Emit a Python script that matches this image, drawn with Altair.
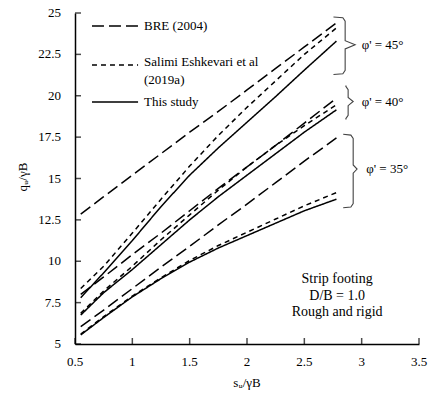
import altair as alt
import pandas as pd

# ---- data ----
X = [0.55, 0.75, 1.0, 1.25, 1.5, 1.75, 2.0, 2.25, 2.5, 2.78]

bre_45 = [12.85, 13.9, 15.2, 16.5, 17.8, 19.05, 20.35, 21.65, 22.95, 24.4]
bre_40 = [8.0, 9.05, 10.4, 11.7, 13.05, 14.4, 15.7, 17.0, 18.35, 19.85]
bre_35 = [6.05, 7.05, 8.35, 9.65, 10.9, 12.2, 13.45, 14.75, 16.05, 17.45]

sal_45 = [8.35, 9.7, 11.7, 13.75, 15.75, 17.6, 19.3, 20.9, 22.5, 24.1]
sal_40 = [6.85, 8.2, 9.7, 11.3, 12.8, 14.3, 15.7, 17.0, 18.2, 19.45]
sal_35 = [5.6, 6.65, 7.9, 9.0, 10.05, 10.95, 11.75, 12.55, 13.35, 14.15]

this_45 = [7.8, 9.3, 11.25, 13.3, 15.2, 16.85, 18.4, 19.95, 21.55, 23.3]
this_40 = [6.75, 8.1, 9.5, 11.0, 12.5, 13.9, 15.2, 16.5, 17.8, 19.15]
this_35 = [5.55, 6.6, 7.85, 8.95, 9.95, 10.8, 11.55, 12.3, 13.05, 13.75]

sources = ["BRE (2004)", "Salimi Eshkevari et al (2019a)", "This study"]
series = {
    ("BRE (2004)", "45"): bre_45, ("BRE (2004)", "40"): bre_40, ("BRE (2004)", "35"): bre_35,
    ("Salimi Eshkevari et al (2019a)", "45"): sal_45,
    ("Salimi Eshkevari et al (2019a)", "40"): sal_40,
    ("Salimi Eshkevari et al (2019a)", "35"): sal_35,
    ("This study", "45"): this_45, ("This study", "40"): this_40, ("This study", "35"): this_35,
}

x_ticks = [0.5, 1.0, 1.5, 2.0, 2.5, 3.0, 3.5]
x_tick_labels = ["0.5", "1", "1.5", "2", "2.5", "3", "3.5"]
y_ticks = [5, 7.5, 10, 12.5, 15, 17.5, 20, 22.5, 25]
y_tick_labels = ["5", "7.5", "10", "12.5", "15", "17.5", "20", "22.5", "25"]

x_title = "sᵤ/γB"
y_title = "qᵤ/γB"

legend_lines = [["BRE (2004)"], ["Salimi Eshkevari et al", "(2019a)"], ["This study"]]

brace_labels = ["φ' = 45°", "φ' = 40°", "φ' = 35°"]
brace_top = [24.76, 20.62, 17.67]
brace_bottom = [21.28, 18.57, 13.23]
brace_mid = [23.08, 19.65, 15.57]
brace_hook_x = [2.754, 2.865, 2.839]
brace_line_x = [2.856, 2.882, 2.926]
brace_tip_x = [2.943, 2.926, 2.96]
brace_label_x = [3.0, 3.0, 3.04]

note_lines = ["Strip footing", "D/B = 1.0", "Rough and rigid"]
note_x = [2.786, 2.786, 2.786]
note_y = [8.9, 7.88, 6.92]

# ---- layout (legend placement, in data units) ----
LEG_X0, LEG_X1, LEG_TX = 0.648, 1.05, 1.102
LEG_ROW_Y = [24.21, 21.86, 19.62]
LEG_TEXT_Y = [[24.21], [22.04, 20.95], [19.62]]

FONT = "Liberation Serif"

# ---- tables ----
rows = []
for (src, phi), vals in series.items():
    for xv, yv in zip(X, vals):
        rows.append({"x": xv, "y": yv, "source": src, "phi": phi})
df = pd.DataFrame(rows)

brows = []
for i, lab in enumerate(brace_labels):
    h, v, t = brace_hook_x[i], brace_line_x[i], brace_tip_x[i]
    top, bot, mid = brace_top[i], brace_bottom[i], brace_mid[i]
    pts = [(h, top), (v - 0.02, top - 0.05), (v, top - 0.25), (v, mid + 0.25),
           (t, mid), (v, mid - 0.25), (v, bot + 0.25), (v - 0.02, bot + 0.05), (h, bot)]
    for k, (px, py) in enumerate(pts):
        brows.append({"x": px, "y": py, "brace": lab, "k": k})
bdf = pd.DataFrame(brows)
blab = pd.DataFrame({"x": brace_label_x, "y": brace_mid, "t": brace_labels})
notes = pd.DataFrame({"x": note_x, "y": note_y, "t": note_lines})
xt = pd.DataFrame({"x": x_ticks, "y": [5] * len(x_ticks), "t": x_tick_labels})
yt = pd.DataFrame({"x": [0.5] * len(y_ticks), "y": y_ticks, "t": y_tick_labels})

leg_sym = pd.DataFrame({"x": [LEG_X0] * 3, "x2": [LEG_X1] * 3, "y": LEG_ROW_Y,
                        "source": sources})
leg_txt = pd.DataFrame([{"x": LEG_TX, "y": yy, "t": tt}
                        for lines_, ys in zip(legend_lines, LEG_TEXT_Y)
                        for tt, yy in zip(lines_, ys)])

xscale = alt.Scale(domain=[0.5, 3.5], nice=False, zero=False)
yscale = alt.Scale(domain=[5, 25], nice=False, zero=False)

xaxis = alt.Axis(values=x_ticks, labels=False, ticks=False, grid=False, title=None,
                 domainColor="black", domainWidth=1.5)
yaxis = alt.Axis(values=y_ticks, labels=False, ticks=False, grid=False, title=None,
                 domainColor="black", domainWidth=1.5)

XP = alt.X("x:Q", scale=xscale, axis=xaxis)
YP = alt.Y("y:Q", scale=yscale, axis=yaxis)
dash_scale = alt.Scale(domain=sources, range=[[12, 5], [5, 4], [1, 0]])

lines = alt.Chart(df).mark_line(color="black", strokeWidth=1.5).encode(
    x=XP, y=YP,
    strokeDash=alt.StrokeDash("source:N", scale=dash_scale, legend=None),
    detail="phi:N",
)

legend_sym = alt.Chart(leg_sym).mark_rule(color="black", strokeWidth=1.5).encode(
    x=XP, x2="x2:Q", y=YP,
    strokeDash=alt.StrokeDash("source:N", scale=dash_scale, legend=None))

legend_text = alt.Chart(leg_txt).mark_text(align="left", baseline="middle", font=FONT,
                                          fontSize=13, color="black").encode(
    x=XP, y=YP, text="t:N")

braces = alt.Chart(bdf).mark_line(color="#444444", strokeWidth=1.1).encode(
    x=XP, y=YP, detail="brace:N", order="k:Q")

brace_text = alt.Chart(blab).mark_text(align="left", baseline="middle", font=FONT,
                                       fontSize=13, color="black").encode(
    x=XP, y=YP, text="t:N")

note_text = alt.Chart(notes).mark_text(align="center", baseline="middle", font=FONT,
                                       fontSize=14, color="black").encode(
    x=XP, y=YP, text="t:N")

xtick = alt.Chart(xt).mark_tick(orient="vertical", size=6, thickness=1.5, yOffset=-3,
                                color="black").encode(x=XP, y=YP)
ytick = alt.Chart(yt).mark_tick(orient="horizontal", size=6, thickness=1.5, xOffset=3,
                                color="black").encode(x=XP, y=YP)

xlab = alt.Chart(xt).mark_text(align="center", baseline="middle", dy=18, font=FONT,
                               fontSize=13, color="black").encode(x=XP, y=YP, text="t:N")
ylab = alt.Chart(yt).mark_text(align="right", baseline="middle", dx=-14, font=FONT,
                               fontSize=13, color="black").encode(x=XP, y=YP, text="t:N")

xtitle = alt.Chart(pd.DataFrame({"t": [x_title]})).mark_text(
    align="center", baseline="middle", font=FONT, fontSize=13, color="black").encode(
    x=alt.value(172), y=alt.value(370), text="t:N")
ytitle = alt.Chart(pd.DataFrame({"t": [y_title]})).mark_text(
    align="center", baseline="middle", angle=270, font=FONT, fontSize=13,
    color="black").encode(x=alt.value(-52), y=alt.value(164), text="t:N")

chart = alt.layer(lines, legend_sym, legend_text, braces, brace_text, note_text,
                  xtick, ytick, xlab, ylab, xtitle, ytitle).properties(
    width=344, height=331,
    autosize=alt.AutoSizeParams(type="none"),
    padding={"left": 67, "top": 5, "right": 13, "bottom": 48},
).configure(background="white").configure_view(stroke=None)

chart.save("out.html", embed_options={"renderer": "svg", "actions": False})
